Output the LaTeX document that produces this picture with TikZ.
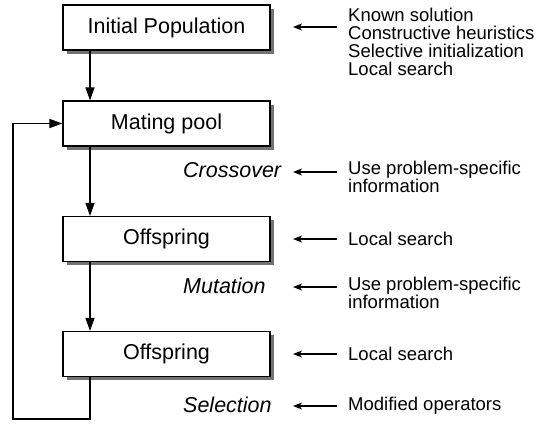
\documentclass[tikz,border=0pt]{standalone}
\usepackage{fontspec}
\setmainfont{Liberation Sans}
\usetikzlibrary{arrows.meta,shadows}
\begin{document}
\begin{tikzpicture}[x=1pt,y=-1pt,
  box/.style={draw, line width=1.1pt, fill=white, minimum width=207pt, minimum height=45pt,
    inner sep=0pt, font=\fontsize{21.5}{25}\selectfont,
    drop shadow={shadow xshift=3.5pt, shadow yshift=-3.5pt, opacity=1, fill=black!55}},
  oplabel/.style={anchor=west, inner sep=0pt, font=\fontsize{21.5}{25}\selectfont\itshape},
  note/.style={anchor=west, inner sep=0pt, align=left, font=\fontsize{18.5}{18}\selectfont},
  flow/.style={line width=1.2pt, -{Triangle[length=13pt,width=9pt]}},
  side/.style={line width=1.1pt, -{Stealth[length=9pt,width=7pt,inset=2.5pt]}}]
\useasboundingbox (0,0) rectangle (538,423);

\node[box] (b1) at (166.5,27.5) {Initial Population};
\node[box] (b2) at (166.5,123.5) {Mating pool};
\node[box] (b3) at (166.5,239) {Offspring};
\node[box] (b4) at (166.5,354) {Offspring};

\coordinate (colx) at (90,0);
\coordinate (lb) at (13,419);
\draw[flow] (b1.south -| colx) -- (b2.north -| colx);
\draw[flow] (b2.south -| colx) -- (b3.north -| colx);
\draw[flow] (b3.south -| colx) -- (b4.north -| colx);
\draw[flow] (b4.south -| colx) |- (lb) |- (b2.west);

\node[oplabel] (cx) at (183,170) {Crossover};
\node[oplabel] (mu) at (183,286) {Mutation};
\node[oplabel] (se) at (183,405) {Selection};

\node[note] (n1) at (348,42) {Known solution\\Constructive heuristics\\Selective initialization\\Local search};
\node[note] (n2) at (348,177) {Use problem-specific\\information};
\node[note] (n3) at (348,239) {Local search};
\node[note] (n4) at (348,293) {Use problem-specific\\information};
\node[note] (n5) at (348,354) {Local search};
\node[note] (n6) at (348,406) {Modified operators};

\coordinate (s1a) at (337,27);  \coordinate (s1b) at (293,27);
\coordinate (s2a) at (337,172); \coordinate (s2b) at (293,172);
\coordinate (s3a) at (337,239); \coordinate (s3b) at (293,239);
\coordinate (s4a) at (337,287); \coordinate (s4b) at (293,287);
\coordinate (s5a) at (337,354); \coordinate (s5b) at (293,354);
\coordinate (s6a) at (337,406); \coordinate (s6b) at (293,406);
\draw[side] (s1a) -- (s1b);
\draw[side] (s2a) -- (s2b);
\draw[side] (s3a) -- (s3b);
\draw[side] (s4a) -- (s4b);
\draw[side] (s5a) -- (s5b);
\draw[side] (s6a) -- (s6b);
\end{tikzpicture}
\end{document}
